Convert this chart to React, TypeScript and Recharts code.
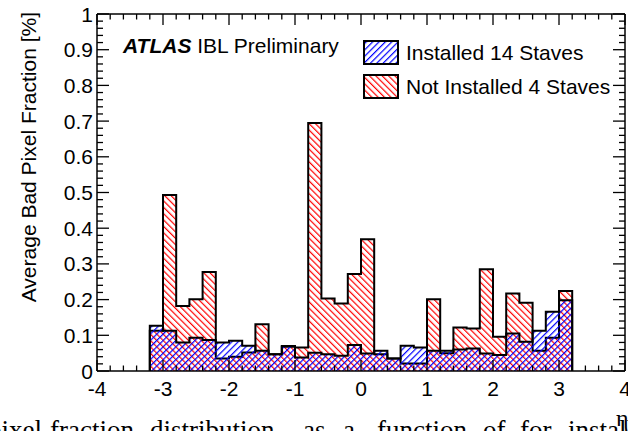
import { Area, ComposedChart, XAxis, YAxis } from "recharts";

// lower bin edges in eta, bin width 0.2
const BIN_LOW = [
  -3.2, -3.0, -2.8, -2.6, -2.4, -2.2, -2.0, -1.8, -1.6, -1.4, -1.2, -1.0, -0.8, -0.6, -0.4, -0.2,
  0.0, 0.2, 0.4, 0.6, 0.8, 1.0, 1.2, 1.4, 1.6, 1.8, 2.0, 2.2, 2.4, 2.6, 2.8, 3.0,
];
const BIN_HIGH_LAST = 3.2;

// Installed 14 staves (blue)
const INSTALLED = [
  0.127, 0.113, 0.08, 0.093, 0.087, 0.08, 0.085, 0.071, 0.057, 0.047, 0.07, 0.038, 0.051, 0.047, 0.043, 0.073,
  0.049, 0.057, 0.035, 0.071, 0.066, 0.057, 0.057, 0.06, 0.063, 0.049, 0.045, 0.105, 0.082, 0.113, 0.166, 0.198,
];

// Not installed 4 staves (red)
const NOT_INSTALLED = [
  0.113, 0.493, 0.182, 0.201, 0.277, 0.035, 0.04, 0.052, 0.131, 0.047, 0.068, 0.066, 0.695, 0.203, 0.189, 0.272,
  0.369, 0.047, 0.035, 0.021, 0.021, 0.201, 0.05, 0.122, 0.119, 0.285, 0.096, 0.217, 0.191, 0.057, 0.093, 0.224,
];

const X_MAJOR = [-4, -3, -2, -1, 0, 1, 2, 3, 4];
const Y_MAJOR = [0, 0.1, 0.2, 0.3, 0.4, 0.5, 0.6, 0.7, 0.8, 0.9, 1];
const Y_LABELS = ["0", "0.1", "0.2", "0.3", "0.4", "0.5", "0.6", "0.7", "0.8", "0.9", "1"];

// minor ticks: 5 per unit on x, 5 per 0.1 on y
const X_TICKS = Array.from({ length: 41 }, (_, i) => Math.round((-4 + i * 0.2) * 10) / 10);
const Y_TICKS = Array.from({ length: 51 }, (_, i) => Math.round(i * 0.02 * 100) / 100);

// histogram outline as step points, closed down to zero at both ends
const histData = [
  { x: BIN_LOW[0], installed: 0, notInstalled: 0 },
  ...BIN_LOW.map((x, i) => ({ x, installed: INSTALLED[i], notInstalled: NOT_INSTALLED[i] })),
  { x: BIN_HIGH_LAST, installed: INSTALLED[31], notInstalled: NOT_INSTALLED[31] },
  { x: BIN_HIGH_LAST, installed: 0, notInstalled: 0 },
];

const FONT = "'Liberation Sans', Arial, Helvetica, sans-serif";
const SERIF = "'Liberation Serif', 'DejaVu Serif', serif";
const LABEL_SIZE = 21;

const isMajorX = (v: number) => X_MAJOR.some((m) => Math.abs(m - v) < 1e-6);
const isMajorY = (v: number) => Y_MAJOR.some((m) => Math.abs(m - v) < 1e-6);

// ROOT style: ticks point into the frame
const bottomTick = (p: any) => {
  const { x, y, payload } = p;
  const v = payload.value;
  const major = isMajorX(v);
  return (
    <g key={`b${v}`}>
      <path d={`M${x},${y}V${y - (major ? 11 : 5.5)}`} stroke="#000" strokeWidth={1.3} fill="none" />
      {major && (
        <text x={x} y={y + 25} textAnchor="middle" fontSize={LABEL_SIZE} fontFamily={FONT} fill="#000">
          {String(v)}
        </text>
      )}
    </g>
  );
};

const topTick = (p: any) => {
  const { x, y, payload } = p;
  const major = isMajorX(payload.value);
  return <path key={`t${payload.value}`} d={`M${x},${y}V${y + (major ? 11 : 5.5)}`} stroke="#000" strokeWidth={1.3} fill="none" />;
};

const leftTick = (p: any) => {
  const { x, y, payload } = p;
  const v = payload.value;
  const major = isMajorY(v);
  const idx = Y_MAJOR.findIndex((m) => Math.abs(m - v) < 1e-6);
  return (
    <g key={`l${v}`}>
      <path d={`M${x},${y}H${x + (major ? 12 : 6)}`} stroke="#000" strokeWidth={1.3} fill="none" />
      {major && (
        <text x={x - 4} y={y + 7.5} textAnchor="end" fontSize={LABEL_SIZE} fontFamily={FONT} fill="#000">
          {Y_LABELS[idx]}
        </text>
      )}
    </g>
  );
};

const rightTick = (p: any) => {
  const { x, y, payload } = p;
  const major = isMajorY(payload.value);
  return <path key={`r${payload.value}`} d={`M${x},${y}H${x - (major ? 12 : 6)}`} stroke="#000" strokeWidth={1.3} fill="none" />;
};

const frame = { stroke: "#000", strokeWidth: 1.5 };

export default function App() {
  return (
    <div style={{ position: "fixed", left: 0, top: 0, width: 628, height: 431, overflow: "hidden", background: "#fff" }}>
      <svg width={0} height={0} style={{ position: "absolute" }}>
        <defs>
          <pattern id="blueHatch" width="4.5" height="4.5" patternUnits="userSpaceOnUse" patternTransform="rotate(45)">
            <line x1="0.6" y1="0" x2="0.6" y2="4.5" stroke="#0000ff" strokeWidth="1.2" />
          </pattern>
          <pattern id="redHatch" width="4.5" height="4.5" patternUnits="userSpaceOnUse" patternTransform="rotate(-45)">
            <line x1="0.6" y1="0" x2="0.6" y2="4.5" stroke="#ff0000" strokeWidth="1.2" />
          </pattern>
        </defs>
      </svg>
      <ComposedChart width={628} height={431} data={histData} margin={{ top: 13, right: 2, bottom: 0, left: 0 }}>
        <XAxis
          xAxisId="b"
          dataKey="x"
          type="number"
          domain={[-4, 4]}
          allowDataOverflow
          ticks={X_TICKS}
          interval={0}
          tickSize={0}
          tickMargin={0}
          tickLine={false}
          tick={bottomTick}
          axisLine={frame}
          height={60}
        />
        <XAxis
          xAxisId="t"
          dataKey="x"
          orientation="top"
          type="number"
          domain={[-4, 4]}
          allowDataOverflow
          ticks={X_TICKS}
          interval={0}
          tickSize={0}
          tickMargin={0}
          tickLine={false}
          tick={topTick}
          axisLine={frame}
          height={1}
        />
        <YAxis
          yAxisId="l"
          type="number"
          domain={[0, 1]}
          allowDataOverflow
          ticks={Y_TICKS}
          interval={0}
          tickSize={0}
          tickMargin={0}
          tickLine={false}
          tick={leftTick}
          axisLine={frame}
          width={97}
        />
        <YAxis
          yAxisId="r"
          orientation="right"
          type="number"
          domain={[0, 1]}
          allowDataOverflow
          ticks={Y_TICKS}
          interval={0}
          tickSize={0}
          tickMargin={0}
          tickLine={false}
          tick={rightTick}
          axisLine={frame}
          width={1}
        />
        <Area
          xAxisId="b"
          yAxisId="l"
          type="stepAfter"
          dataKey="notInstalled"
          stroke="#000"
          strokeWidth={2}
          fill="url(#redHatch)"
          fillOpacity={1}
          dot={false}
          activeDot={false}
          isAnimationActive={false}
        />
        <Area
          xAxisId="b"
          yAxisId="l"
          type="stepAfter"
          dataKey="installed"
          stroke="#000"
          strokeWidth={2}
          fill="url(#blueHatch)"
          fillOpacity={1}
          dot={false}
          activeDot={false}
          isAnimationActive={false}
        />
        <Area
          xAxisId="t"
          yAxisId="r"
          dataKey="installed"
          stroke="none"
          fill="none"
          dot={false}
          activeDot={false}
          isAnimationActive={false}
        />
      </ComposedChart>
      <svg
        width={628}
        height={431}
        style={{ position: "absolute", left: 0, top: 0, pointerEvents: "none" }}
        fontFamily={FONT}
      >
        <text
          transform="translate(36,12) rotate(-90)"
          textAnchor="end"
          fontSize={LABEL_SIZE}
          fill="#000"
        >
          Average Bad Pixel Fraction [%]
        </text>
        <text x={123} y={53} fontSize={21} fill="#000">
          <tspan fontWeight="bold" fontStyle="italic">ATLAS</tspan>
          <tspan> IBL Preliminary</tspan>
        </text>
        <rect x={364} y={41} width={34} height={23} fill="url(#blueHatch)" stroke="#000" strokeWidth={2} />
        <text x={406} y={60} fontSize={LABEL_SIZE} fill="#000">Installed 14 Staves</text>
        <rect x={364} y={75} width={34} height={23} fill="url(#redHatch)" stroke="#000" strokeWidth={2} />
        <text x={406} y={94} fontSize={LABEL_SIZE} fill="#000">Not Installed 4 Staves</text>
        <text x={616} y={426} fontSize={24} fontFamily={SERIF} fill="#000">η</text>
        <text y={439} fontSize={27} fontFamily={SERIF} fill="#000">
          <tspan x={-12}>pixel</tspan>
          <tspan x={50}>fraction</tspan>
          <tspan x={150}>distribution</tspan>
          <tspan x={303}>as</tspan>
          <tspan x={343}>a</tspan>
          <tspan x={377}>function</tspan>
          <tspan x={483}>of</tspan>
          <tspan x={520}>for</tspan>
          <tspan x={568}>installed</tspan>
        </text>
      </svg>
    </div>
  );
}
